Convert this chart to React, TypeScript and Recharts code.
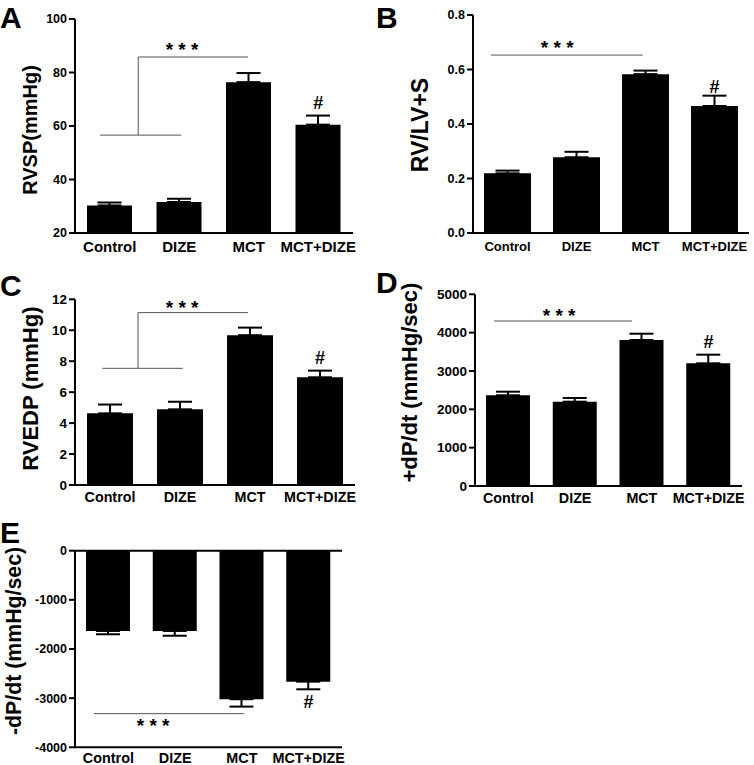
import React from 'react';
import { BarChart, Bar, XAxis, YAxis, ErrorBar, ReferenceLine, ReferenceDot } from 'recharts';

const FONT = '"Liberation Sans", Arial, Helvetica, sans-serif';

const groups = ['Control', 'DIZE', 'MCT', 'MCT+DIZE'];

// Panel A: RVSP
const rvspMean = [30.3, 31.6, 76.4, 60.5];
const rvspSem = [1.1, 1.2, 3.4, 3.4];
const rvspTicks = [20, 40, 60, 80, 100];

// Panel B: RV/LV+S
const rvRatioMean = [0.219, 0.278, 0.583, 0.466];
const rvRatioSem = [0.01, 0.02, 0.013, 0.038];
const rvRatioTicks = [0, 0.2, 0.4, 0.6, 0.8];

// Panel C: RVEDP
const rvedpMean = [4.63, 4.89, 9.68, 6.96];
const rvedpSem = [0.57, 0.49, 0.49, 0.43];
const rvedpTicks = [0, 2, 4, 6, 8, 10, 12];

// Panel D: +dP/dt
const dpPlusMean = [2366, 2199, 3808, 3200];
const dpPlusSem = [94, 96, 164, 225];
const dpPlusTicks = [0, 1000, 2000, 3000, 4000, 5000];

// Panel E: -dP/dt
const dpMinusMean = [-1633, -1633, -3022, -2664];
const dpMinusSem = [67, 97, 150, 156];
const dpMinusTicks = [0, -1000, -2000, -3000, -4000];

// Significance annotations (x in category-band units 0..4, y in data units)
const sigA = [[[0.36, 56.6], [1.53, 56.6]], [[0.91, 56.6], [0.91, 85.8]], [[0.91, 85.8], [2.49, 85.8]]];
const starsA = [1.54, 88.6];
const hashA = [3.5, 68.8];

const sigB = [[[0.26, 0.653], [2.46, 0.653]]];
const starsB = [1.22, 0.68];
const hashB = [3.5, 0.539];

const sigC = [[[0.39, 7.54], [1.54, 7.54]], [[0.9, 7.54], [0.9, 11.14]], [[0.9, 11.14], [2.47, 11.14]]];
const starsC = [1.53, 11.47];
const hashC = [3.5, 8.21];

const sigD = [[[0.285, 4304], [2.35, 4304]]];
const starsD = [1.26, 4444];
const hashD = [3.5, 3769];

const sigE = [[[0.285, -3315], [2.53, -3315]]];
const starsE = [1.17, -3557];
const hashE = [3.5, -3071];

function buildRows(means: number[], sems: number[]) {
  return groups.map((g, i) => ({
    name: g,
    pos: i + 0.5,
    mean: means[i],
    err: means[i] < 0 ? [sems[i], 0] : [0, sems[i]],
  }));
}

type PanelProps = {
  left: number; top: number; width: number; height: number;
  mTop: number; mRight: number; yw: number; xh: number;
  means: number[]; sems: number[]; domain: [number, number]; ticks: number[];
  fmt?: (v: number) => string;
  yLabel: string; labelX: number; labelDy: number; labelFs: number;
  catFs: number; tickFs: number; tickMargin: number; barSize: number;
  sig: number[][][]; stars: number[]; hash: number[]; zeroLine?: boolean;
};

function Panel(p: PanelProps) {
  const rows = buildRows(p.means, p.sems);
  return (
    <div style={{ position: 'absolute', left: p.left, top: p.top, width: p.width, height: p.height }}>
      <BarChart
        width={p.width}
        height={p.height}
        data={rows}
        margin={{ top: p.mTop, right: p.mRight, left: 0, bottom: 0 }}
        barSize={p.barSize}
      >
        <XAxis
          dataKey="name"
          xAxisId="c"
          height={p.xh}
          interval={0}
          axisLine={{ stroke: '#000', strokeWidth: 2 }}
          tickLine={false}
          tickSize={0}
          tickMargin={p.tickMargin}
          tick={{ fill: '#000', fontSize: p.catFs, fontWeight: 700, fontFamily: FONT }}
        />
        <XAxis xAxisId="n" dataKey="pos" type="number" domain={[0, 4]} allowDataOverflow hide />
        <YAxis
          width={p.yw}
          domain={p.domain}
          ticks={p.ticks}
          interval={0}
          allowDataOverflow
          tickFormatter={p.fmt}
          axisLine={{ stroke: '#000', strokeWidth: 2 }}
          tickLine={{ stroke: '#000', strokeWidth: 2 }}
          tickSize={6}
          tickMargin={2}
          tick={{ fill: '#000', fontSize: p.tickFs, fontWeight: 700, fontFamily: FONT }}
          label={{
            value: p.yLabel,
            angle: -90,
            position: 'insideLeft',
            offset: p.labelX,
            dy: p.labelDy,
            fill: '#000',
            fontSize: p.labelFs,
            fontWeight: 700,
            fontFamily: FONT,
            style: { textAnchor: 'middle' },
          }}
        />
        <Bar dataKey="mean" xAxisId="c" fill="#000" isAnimationActive={false}>
          <ErrorBar dataKey="err" direction="y" width={12} stroke="#000" strokeWidth={2} isAnimationActive={false} />
        </Bar>
        {p.zeroLine ? <ReferenceLine y={0} xAxisId="c" stroke="#000" strokeWidth={2} /> : null}
        {p.sig.map((s, i) => (
          <ReferenceLine
            key={'sig' + i}
            xAxisId="n"
            segment={[{ x: s[0][0], y: s[0][1] }, { x: s[1][0], y: s[1][1] }]}
            stroke="#555"
            strokeWidth={1}
          />
        ))}
        <ReferenceDot
          key="stars"
          xAxisId="n"
          x={p.stars[0]}
          y={p.stars[1]}
          r={0}
          fill="none"
          stroke="none"
          label={{ value: '* * *', position: 'center', fill: '#000', fontSize: 19, fontWeight: 700, fontFamily: FONT }}
        />
        <ReferenceDot
          key="hash"
          xAxisId="n"
          x={p.hash[0]}
          y={p.hash[1]}
          r={0}
          fill="none"
          stroke="none"
          label={{ value: '#', position: 'center', fill: '#000', fontSize: 18, fontWeight: 700, fontFamily: FONT }}
        />
      </BarChart>
    </div>
  );
}

export default function App() {
  return (
    <div style={{ position: 'absolute', left: 0, top: 0, width: 754, height: 765, background: '#fff', overflow: 'hidden' }}>
      <Panel
        left={0} top={0} width={377} height={258}
        mTop={19} mRight={24} yw={75} xh={25}
        means={rvspMean} sems={rvspSem} domain={[20, 100]} ticks={rvspTicks}
        yLabel="RVSP(mmHg)" labelX={30} labelDy={4} labelFs={20}
        catFs={15} tickFs={12.5} tickMargin={8} barSize={45}
        sig={sigA} stars={starsA} hash={hashA}
      />
      <Panel
        left={377} top={0} width={377} height={258}
        mTop={15} mRight={5} yw={96} xh={25}
        means={rvRatioMean} sems={rvRatioSem} domain={[0, 0.8]} ticks={rvRatioTicks}
        fmt={(v: number) => v.toFixed(1)}
        yLabel="RV/LV+S" labelX={43} labelDy={1} labelFs={23}
        catFs={13} tickFs={12.5} tickMargin={9} barSize={47}
        sig={sigB} stars={starsB} hash={hashB}
      />
      <Panel
        left={0} top={258} width={377} height={252}
        mTop={41.3} mRight={22} yw={75} xh={25}
        means={rvedpMean} sems={rvedpSem} domain={[0, 12]} ticks={rvedpTicks}
        yLabel="RVEDP (mmHg)" labelX={30} labelDy={-3.5} labelFs={22}
        catFs={14.3} tickFs={13.5} tickMargin={6.5} barSize={46}
        sig={sigC} stars={starsC} hash={hashC}
      />
      <Panel
        left={377} top={258} width={377} height={252}
        mTop={36.3} mRight={12} yw={98} xh={24}
        means={dpPlusMean} sems={dpPlusSem} domain={[0, 5000]} ticks={dpPlusTicks}
        yLabel="+dP/dt (mmHg/sec)" labelX={32} labelDy={-7.5} labelFs={22}
        catFs={14.3} tickFs={13.5} tickMargin={6.5} barSize={44}
        sig={sigD} stars={starsD} hash={hashD}
      />
      <Panel
        left={0} top={510} width={377} height={255}
        mTop={40.7} mRight={35} yw={75} xh={17.7}
        means={dpMinusMean} sems={dpMinusSem} domain={[-4000, 0]} ticks={dpMinusTicks}
        yLabel="-dP/dt (mmHg/sec)" labelX={13} labelDy={-8} labelFs={21.3}
        catFs={14.4} tickFs={12.5} tickMargin={5.6} barSize={44}
        sig={sigE} stars={starsE} hash={hashE} zeroLine
      />
      <svg width={754} height={765} style={{ position: 'absolute', left: 0, top: 0, pointerEvents: 'none' }}>
        <g fill="#000" fontFamily={FONT} fontWeight={700} fontSize={30}>
          <text x={0} y={28}>A</text>
          <text x={376} y={28}>B</text>
          <text x={0} y={296}>C</text>
          <text x={376} y={293}>D</text>
          <text x={0} y={543}>E</text>
        </g>
      </svg>
    </div>
  );
}
